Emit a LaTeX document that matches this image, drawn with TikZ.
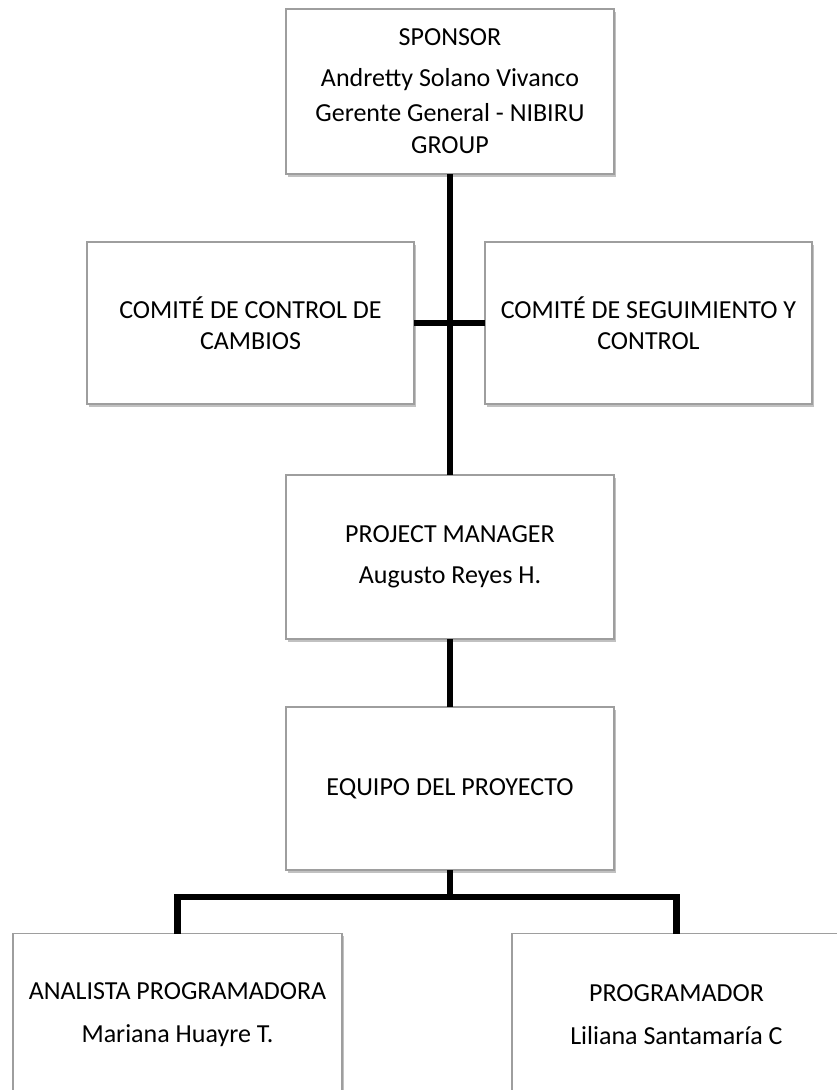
\documentclass[tikz,border=0pt]{standalone}
\usepackage{fontspec}
\setmainfont{Carlito}
\usetikzlibrary{shadows}
\definecolor{boxline}{RGB}{158,158,158}
\definecolor{boxshade}{RGB}{100,100,100}
\begin{document}
\begin{tikzpicture}[x=1pt,y=-1pt,
  orgbox/.style={draw=boxline, line width=1.3pt, fill=white, inner sep=0pt, outer sep=0pt,
    align=center, font=\fontsize{26}{31}\selectfont,
    drop shadow={shadow xshift=1.6pt, shadow yshift=-2.6pt, opacity=0.4, fill=boxshade}},
  conn/.style={line width=6.3pt, black, line join=miter, line cap=butt}]
\useasboundingbox (0,0) rectangle (837,1090);

% connectors (drawn first, boxes sit on top)
\coordinate (top) at (450,174);
\coordinate (pmtop) at (450,474);
\coordinate (bus) at (450,897);

% boxes
\node[orgbox, minimum width=328pt, minimum height=165pt] (sp) at (450,91.5)
  {SPONSOR\\[10pt]Andretty Solano Vivanco\\[4pt]Gerente General - NIBIRU\\[1pt]GROUP};
\node[orgbox, minimum width=327pt, minimum height=162pt] (cl) at (250.5,323)
  {COMITÉ DE CONTROL DE\\CAMBIOS};
\node[orgbox, minimum width=327pt, minimum height=162pt] (cr) at (648.5,323)
  {COMITÉ DE SEGUIMIENTO Y\\CONTROL};
\node[orgbox, minimum width=328pt, minimum height=164pt] (pm) at (450,557)
  {PROJECT MANAGER\\[10pt]Augusto Reyes H.};
\node[orgbox, minimum width=328pt, minimum height=163pt] (eq) at (450,788.5)
  {EQUIPO DEL PROYECTO};
\node[orgbox, minimum width=329pt, minimum height=163pt] (an) at (177.5,1015)
  {ANALISTA PROGRAMADORA\\[12pt]Mariana Huayre T.};
\node[orgbox, minimum width=329pt, minimum height=163pt] (pr) at (676.5,1015)
  {PROGRAMADOR\\[12pt]Liliana Santamaría C};

% connectors
\draw[conn] (sp.south) -- (pm.north);
\draw[conn] (cl.east) -- (cr.west);
\draw[conn] (pm.south) -- (eq.north);
\draw[conn] (eq.south) -- (bus);
\draw[conn] (an.north) |- (bus) -| (pr.north);
\end{tikzpicture}
\end{document}
